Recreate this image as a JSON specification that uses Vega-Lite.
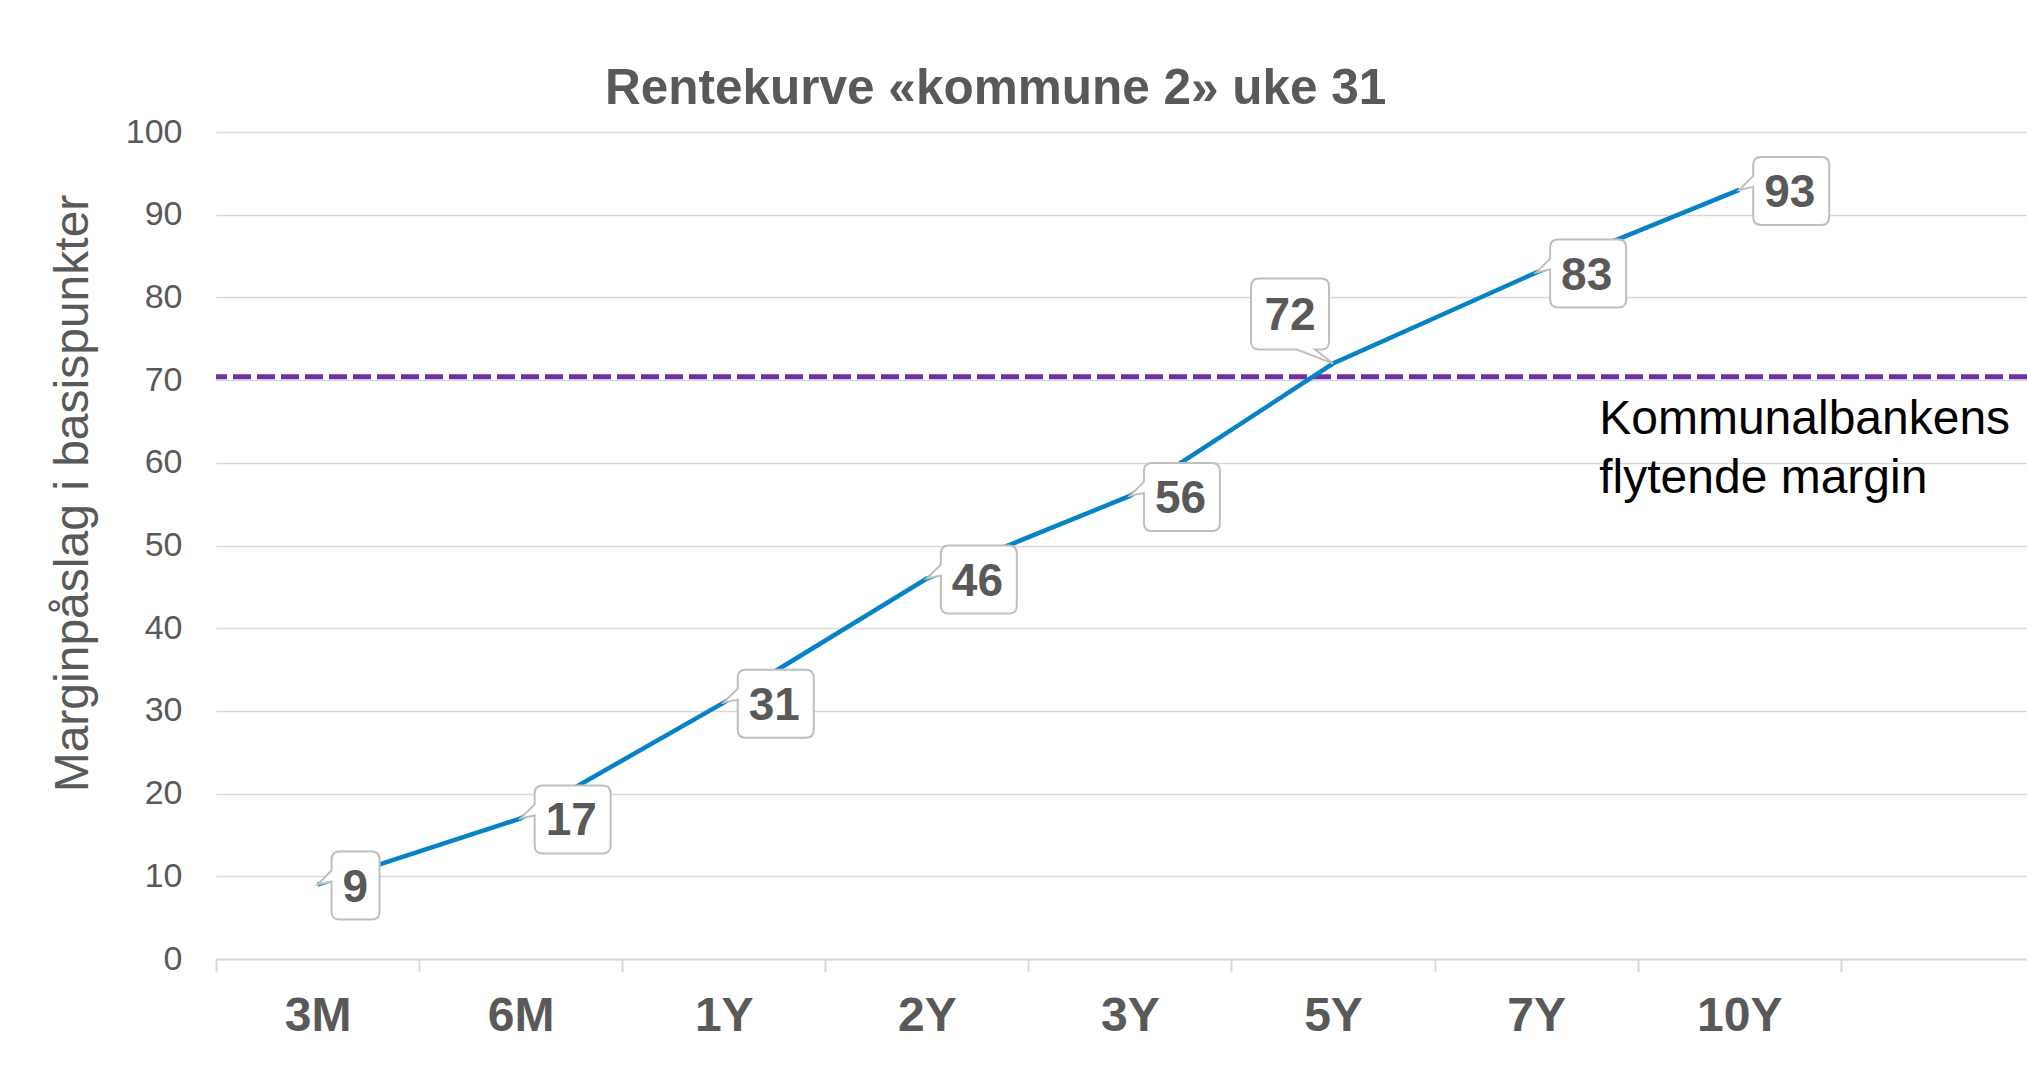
{
  "$schema": "https://vega.github.io/schema/vega-lite/v6.json",
  "autosize": {"type": "none"},
  "padding": {"left": 216, "top": 132, "right": 0, "bottom": 113},
  "width": 1811,
  "height": 827,
  "background": "white",
  "config": {"view": {"stroke": null}, "font": "Liberation Sans"},
  "title": {
    "text": "Rentekurve «kommune 2» uke 31",
    "anchor": "start",
    "frame": "group",
    "dx": 389,
    "fontSize": 49.5,
    "fontWeight": "bold",
    "color": "#595959",
    "font": "Liberation Sans",
    "baseline": "alphabetic",
    "offset": -38
  },
  "data": {
    "values": [
      {"tenor": "3M", "bp": 9},
      {"tenor": "6M", "bp": 17},
      {"tenor": "1Y", "bp": 31},
      {"tenor": "2Y", "bp": 46},
      {"tenor": "3Y", "bp": 56},
      {"tenor": "5Y", "bp": 72},
      {"tenor": "7Y", "bp": 83},
      {"tenor": "10Y", "bp": 93}
    ]
  },
  "layer": [
    {
      "data": {"values": [{"bp": 70.4, "note": "Kommunalbankens\nflytende margin"}]},
      "mark": {"type": "rule", "color": "#7030A0", "strokeWidth": 5, "strokeDash": [18, 6]},
      "encoding": {
        "y": {
          "field": "bp",
          "type": "quantitative",
          "scale": {"domain": [0, 100], "nice": false},
          "axis": {
            "title": "Marginpåslag i basispunkter",
            "titleFontSize": 48,
            "titleFontWeight": "normal",
            "titleColor": "#595959",
            "titlePadding": 28,
            "titleY": 361,
            "labelFontSize": 34,
            "labelColor": "#595959",
            "labelPadding": 34,
            "ticks": false,
            "tickSize": 0,
            "domain": false,
            "gridColor": "#D9D9D9",
            "gridWidth": 1.5,
            "values": [0, 10, 20, 30, 40, 50, 60, 70, 80, 90, 100]
          }
        }
      }
    },
    {
      "data": {"values": [{"bp": 70.4, "note": "Kommunalbankens\nflytende margin"}]},
      "mark": {"type": "text", "align": "left", "baseline": "alphabetic", "dx": -140, "dy": 57, "fontSize": 48, "color": "black", "lineBreak": "\n", "lineHeight": 59},
      "encoding": {
        "x": {"datum": "10Y"},
        "y": {"field": "bp", "type": "quantitative"},
        "text": {"field": "note"}
      }
    },
    {
      "mark": {"type": "line", "color": "#0583C6", "strokeWidth": 4.5},
      "encoding": {
        "x": {
          "field": "tenor",
          "type": "nominal",
          "sort": null,
          "scale": {"type": "band", "domain": ["3M", "6M", "1Y", "2Y", "3Y", "5Y", "7Y", "10Y"], "paddingInner": 0, "paddingOuter": 0.4585, "align": 0},
          "axis": {
            "title": null,
            "labelAngle": 0,
            "labelAlign": "center",
            "tickBand": "extent",
            "labelFontSize": 48,
            "labelFontWeight": "bold",
            "labelColor": "#595959",
            "tickColor": "#D9D9D9",
            "tickSize": 13,
            "tickWidth": 2,
            "domainColor": "#D9D9D9",
            "domainWidth": 2,
            "labelPadding": 44,
            "grid": false
          }
        },
        "y": {"field": "bp", "type": "quantitative"}
      }
    },
    {
      "mark": {"type": "point", "filled": true, "fill": "white", "stroke": "#BFBFBF", "strokeWidth": 2, "size": 4, "opacity": 1, "fillOpacity": 1, "strokeOpacity": 1},
      "encoding": {
        "x": {"field": "tenor", "type": "nominal"},
        "y": {"field": "bp", "type": "quantitative"},
        "shape": {
          "condition": [
            {"test": "datum.tenor === '5Y'", "value": "M-74,-85H-12Q-4,-85 -4,-77V-22Q-4,-14 -12,-14H-18L0,0L-36,-14H-74Q-82,-14 -82,-22V-77Q-82,-85 -74,-85Z"},
            {"test": "datum.bp < 10", "value": "M22,-33H54Q62,-33 62,-25V27Q62,35 54,35H22Q14,35 14,27V-3L0,0L14,-14V-25Q14,-33 22,-33Z"}
          ],
          "value": "M22,-33H82Q90,-33 90,-25V27Q90,35 82,35H22Q14,35 14,27V-3L0,0L14,-14V-25Q14,-33 22,-33Z"
        }
      }
    },
    {
      "transform": [{"filter": "datum.tenor !== '5Y'"}],
      "mark": {"type": "text", "align": "left", "baseline": "middle", "dx": 25, "dy": 3, "fontSize": 46, "fontWeight": "bold", "color": "#595959"},
      "encoding": {
        "x": {"field": "tenor", "type": "nominal"},
        "y": {"field": "bp", "type": "quantitative"},
        "text": {"field": "bp", "type": "quantitative"}
      }
    },
    {
      "transform": [{"filter": "datum.tenor === '5Y'"}],
      "mark": {"type": "text", "align": "center", "baseline": "middle", "dx": -43, "dy": -48, "fontSize": 46, "fontWeight": "bold", "color": "#595959"},
      "encoding": {
        "x": {"field": "tenor", "type": "nominal"},
        "y": {"field": "bp", "type": "quantitative"},
        "text": {"field": "bp", "type": "quantitative"}
      }
    }
  ]
}
